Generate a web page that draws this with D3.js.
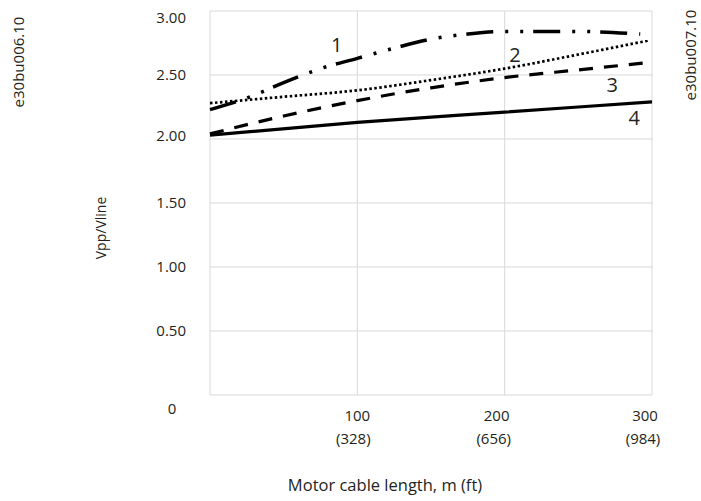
<!DOCTYPE html>
<html>
<head>
<meta charset="utf-8">
<script src="https://cdn.jsdelivr.net/npm/d3@7"></script>
<style>
  html, body { margin: 0; padding: 0; background: #fff; }
  text { font-family: "Open Sans", sans-serif; fill: #231f20; }
</style>
</head>
<body>
<svg id="chart" width="701" height="501"></svg>
<script>
// ---- data ----
const xTicks = [100, 200, 300];
const xTickLabelsM = ["100", "200", "300"];
const xTickLabelsFt = ["(328)", "(656)", "(984)"];
const yTicks = [0.5, 1.0, 1.5, 2.0, 2.5, 3.0];
const yTickLabels = ["0.50", "1.00", "1.50", "2.00", "2.50", "3.00"];

const curve1X = [0, 25, 50, 75, 100, 125, 150, 175, 200, 250, 292];
const curve1Y = [2.23, 2.32, 2.44, 2.55, 2.63, 2.71, 2.78, 2.82, 2.84, 2.84, 2.82];
const curve2X = [0, 50, 100, 150, 200, 250, 298];
const curve2Y = [2.28, 2.33, 2.38, 2.46, 2.55, 2.66, 2.77];
const curve3X = [0, 50, 100, 150, 200, 250, 300];
const curve3Y = [2.04, 2.18, 2.30, 2.40, 2.48, 2.54, 2.60];
const curve4X = [0, 100, 200, 300];
const curve4Y = [2.03, 2.13, 2.21, 2.29];
const curveNames = ["1", "2", "3", "4"];
const curveLabelPos = [[86, 2.68], [207, 2.60], [273, 2.37], [288, 2.11]]; // data coords of number labels

// ---- layout ----
const svg = d3.select("#chart");
const x = d3.scaleLinear().domain([0, 300]).range([210, 652]);
const y = d3.scaleLinear().domain([0, 3]).range([395, 11]);

const grid = svg.append("g");
grid.selectAll("line.h").data([0].concat(yTicks)).join("line")
  .attr("x1", x(0)).attr("x2", x(300))
  .attr("y1", d => y(d)).attr("y2", d => y(d))
  .attr("stroke", "#d9d9d9").attr("stroke-width", 1);
grid.selectAll("line.v").data([0].concat(xTicks)).join("line")
  .attr("x1", d => x(d)).attr("x2", d => x(d))
  .attr("y1", y(0)).attr("y2", y(3))
  .attr("stroke", "#d9d9d9").attr("stroke-width", 1);

// y tick labels
const yAxis = d3.axisLeft(y).tickValues(yTicks)
  .tickFormat((d, i) => yTickLabels[i]).tickSize(0).tickPadding(24);
const gy = svg.append("g").attr("transform", `translate(${x(0)},0)`).call(yAxis);
gy.select(".domain").remove();
gy.selectAll("text").style("font-size", "15px").attr("fill", "#231f20")
  .attr("dy", (d) => d === 3 ? "0.75em" : (d === 2 ? "0.1em" : "0.32em"));
svg.append("text").attr("x", 172).attr("y", y(0) + 19).attr("text-anchor", "middle")
  .style("font-size", "15px").text("0");

// x tick labels
const xg = svg.append("g");
xg.selectAll("text.m").data(xTicks).join("text")
  .attr("x", (d, i) => x(d) - [0, 8, 7][i]).attr("y", y(0) + 26)
  .attr("text-anchor", "middle").style("font-size", "15px")
  .text((d, i) => xTickLabelsM[i]);
xg.selectAll("text.f").data(xTicks).join("text")
  .attr("x", (d, i) => x(d) - [4, 11, 9][i]).attr("y", y(0) + 49)
  .attr("text-anchor", "middle").style("font-size", "15px")
  .text((d, i) => xTickLabelsFt[i]);

// axis titles
svg.append("text").attr("x", 385).attr("y", 491).attr("text-anchor", "middle")
  .style("font-size", "16.5px").text("Motor cable length, m (ft)");
svg.append("text").attr("transform", "translate(106,228) rotate(-90)")
  .attr("text-anchor", "middle").style("font-size", "14px").text("Vpp/Vline");

// side codes
svg.append("text").attr("transform", "translate(24,62) rotate(-90)")
  .attr("text-anchor", "middle").style("font-size", "15px").attr("fill", "#333").text("e30bu006.10");
svg.append("text").attr("transform", "translate(696,55) rotate(-90)")
  .attr("text-anchor", "middle").style("font-size", "15px").attr("fill", "#333").text("e30bu007.10");

// curves
const line = d3.line().x(d => x(d[0])).y(d => y(d[1])).curve(d3.curveMonotoneX);
const series = [
  { xs: curve1X, ys: curve1Y, dash: "27,12,3,12,3,10", w: 3.5 },
  { xs: curve2X, ys: curve2Y, dash: "2.5,2.5", w: 2.7 },
  { xs: curve3X, ys: curve3Y, dash: "14,11", w: 3.2 },
  { xs: curve4X, ys: curve4Y, dash: null, w: 3.2 }
];
svg.append("g").selectAll("path").data(series).join("path")
  .attr("d", s => line(s.xs.map((v, i) => [v, s.ys[i]])))
  .attr("fill", "none").attr("stroke", "#000")
  .attr("stroke-width", s => s.w)
  .attr("stroke-dasharray", s => s.dash);

// curve number labels
svg.append("g").selectAll("text").data(curveNames).join("text")
  .attr("x", (d, i) => x(curveLabelPos[i][0])).attr("y", (d, i) => y(curveLabelPos[i][1]))
  .attr("text-anchor", "middle").style("font-size", "20px").attr("fill", "#231f20")
  .text(d => d);
</script>
</body>
</html>
